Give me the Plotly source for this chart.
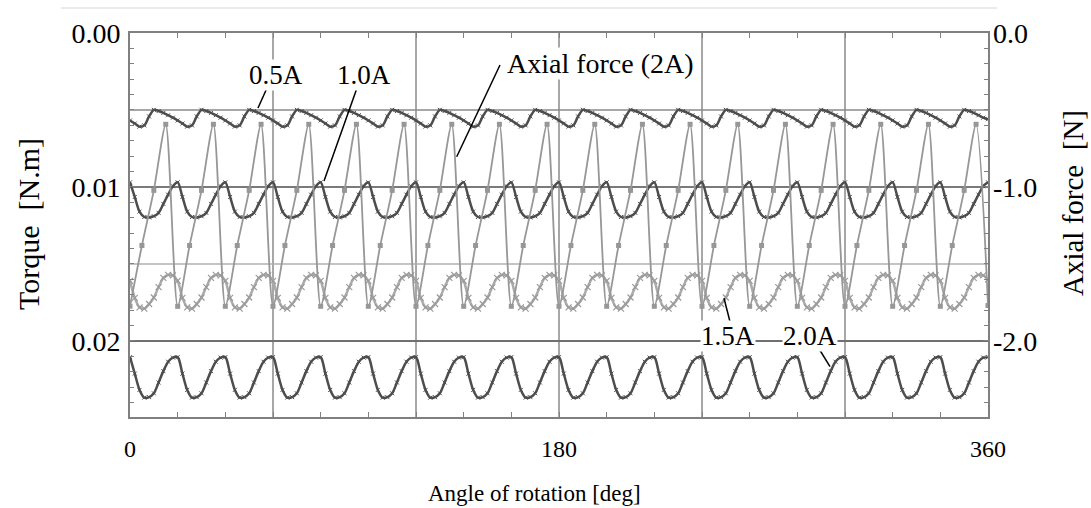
import plotly.graph_objects as go

# ---------------- data ----------------
angle_torque = list(range(0, 361, 2))      # deg, 2-deg sampling
angle_axial = list(range(0, 361, 5))       # deg, 5-deg sampling

torque_05A = [
    0.00568, 0.00588, 0.00608, 0.00600, 0.00542, 0.00499, 0.00507, 0.00519, 0.00534, 0.00550,
    0.00568, 0.00588, 0.00608, 0.00600, 0.00542, 0.00499, 0.00507, 0.00519, 0.00534, 0.00550,
    0.00568, 0.00588, 0.00608, 0.00600, 0.00542, 0.00499, 0.00507, 0.00519, 0.00534, 0.00550,
    0.00568, 0.00588, 0.00608, 0.00600, 0.00542, 0.00499, 0.00507, 0.00519, 0.00534, 0.00550,
    0.00568, 0.00588, 0.00608, 0.00600, 0.00542, 0.00499, 0.00507, 0.00519, 0.00534, 0.00550,
    0.00568, 0.00588, 0.00608, 0.00600, 0.00542, 0.00499, 0.00507, 0.00519, 0.00534, 0.00550,
    0.00568, 0.00588, 0.00608, 0.00600, 0.00542, 0.00499, 0.00507, 0.00519, 0.00534, 0.00550,
    0.00568, 0.00588, 0.00608, 0.00600, 0.00542, 0.00499, 0.00507, 0.00519, 0.00534, 0.00550,
    0.00568, 0.00588, 0.00608, 0.00600, 0.00542, 0.00499, 0.00507, 0.00519, 0.00534, 0.00550,
    0.00568, 0.00588, 0.00608, 0.00600, 0.00542, 0.00499, 0.00507, 0.00519, 0.00534, 0.00550,
    0.00568, 0.00588, 0.00608, 0.00600, 0.00542, 0.00499, 0.00507, 0.00519, 0.00534, 0.00550,
    0.00568, 0.00588, 0.00608, 0.00600, 0.00542, 0.00499, 0.00507, 0.00519, 0.00534, 0.00550,
    0.00568, 0.00588, 0.00608, 0.00600, 0.00542, 0.00499, 0.00507, 0.00519, 0.00534, 0.00550,
    0.00568, 0.00588, 0.00608, 0.00600, 0.00542, 0.00499, 0.00507, 0.00519, 0.00534, 0.00550,
    0.00568, 0.00588, 0.00608, 0.00600, 0.00542, 0.00499, 0.00507, 0.00519, 0.00534, 0.00550,
    0.00568, 0.00588, 0.00608, 0.00600, 0.00542, 0.00499, 0.00507, 0.00519, 0.00534, 0.00550,
    0.00568, 0.00588, 0.00608, 0.00600, 0.00542, 0.00499, 0.00507, 0.00519, 0.00534, 0.00550,
    0.00568, 0.00588, 0.00608, 0.00600, 0.00542, 0.00499, 0.00507, 0.00519, 0.00534, 0.00550,
    0.00560,
]

torque_10A = [
    0.00970, 0.01065, 0.01160, 0.01195, 0.01198, 0.01190, 0.01168, 0.01110, 0.01050, 0.00995,
    0.00970, 0.01065, 0.01160, 0.01195, 0.01198, 0.01190, 0.01168, 0.01110, 0.01050, 0.00995,
    0.00970, 0.01065, 0.01160, 0.01195, 0.01198, 0.01190, 0.01168, 0.01110, 0.01050, 0.00995,
    0.00970, 0.01065, 0.01160, 0.01195, 0.01198, 0.01190, 0.01168, 0.01110, 0.01050, 0.00995,
    0.00970, 0.01065, 0.01160, 0.01195, 0.01198, 0.01190, 0.01168, 0.01110, 0.01050, 0.00995,
    0.00970, 0.01065, 0.01160, 0.01195, 0.01198, 0.01190, 0.01168, 0.01110, 0.01050, 0.00995,
    0.00970, 0.01065, 0.01160, 0.01195, 0.01198, 0.01190, 0.01168, 0.01110, 0.01050, 0.00995,
    0.00970, 0.01065, 0.01160, 0.01195, 0.01198, 0.01190, 0.01168, 0.01110, 0.01050, 0.00995,
    0.00970, 0.01065, 0.01160, 0.01195, 0.01198, 0.01190, 0.01168, 0.01110, 0.01050, 0.00995,
    0.00970, 0.01065, 0.01160, 0.01195, 0.01198, 0.01190, 0.01168, 0.01110, 0.01050, 0.00995,
    0.00970, 0.01065, 0.01160, 0.01195, 0.01198, 0.01190, 0.01168, 0.01110, 0.01050, 0.00995,
    0.00970, 0.01065, 0.01160, 0.01195, 0.01198, 0.01190, 0.01168, 0.01110, 0.01050, 0.00995,
    0.00970, 0.01065, 0.01160, 0.01195, 0.01198, 0.01190, 0.01168, 0.01110, 0.01050, 0.00995,
    0.00970, 0.01065, 0.01160, 0.01195, 0.01198, 0.01190, 0.01168, 0.01110, 0.01050, 0.00995,
    0.00970, 0.01065, 0.01160, 0.01195, 0.01198, 0.01190, 0.01168, 0.01110, 0.01050, 0.00995,
    0.00970, 0.01065, 0.01160, 0.01195, 0.01198, 0.01190, 0.01168, 0.01110, 0.01050, 0.00995,
    0.00970, 0.01065, 0.01160, 0.01195, 0.01198, 0.01190, 0.01168, 0.01110, 0.01050, 0.00995,
    0.00970, 0.01065, 0.01160, 0.01195, 0.01198, 0.01190, 0.01168, 0.01110, 0.01050, 0.00995,
    0.00970,
]

torque_15A = [
    0.01610, 0.01720, 0.01782, 0.01790, 0.01760, 0.01718, 0.01650, 0.01590, 0.01571, 0.01574,
    0.01610, 0.01720, 0.01782, 0.01790, 0.01760, 0.01718, 0.01650, 0.01590, 0.01571, 0.01574,
    0.01610, 0.01720, 0.01782, 0.01790, 0.01760, 0.01718, 0.01650, 0.01590, 0.01571, 0.01574,
    0.01610, 0.01720, 0.01782, 0.01790, 0.01760, 0.01718, 0.01650, 0.01590, 0.01571, 0.01574,
    0.01610, 0.01720, 0.01782, 0.01790, 0.01760, 0.01718, 0.01650, 0.01590, 0.01571, 0.01574,
    0.01610, 0.01720, 0.01782, 0.01790, 0.01760, 0.01718, 0.01650, 0.01590, 0.01571, 0.01574,
    0.01610, 0.01720, 0.01782, 0.01790, 0.01760, 0.01718, 0.01650, 0.01590, 0.01571, 0.01574,
    0.01610, 0.01720, 0.01782, 0.01790, 0.01760, 0.01718, 0.01650, 0.01590, 0.01571, 0.01574,
    0.01610, 0.01720, 0.01782, 0.01790, 0.01760, 0.01718, 0.01650, 0.01590, 0.01571, 0.01574,
    0.01610, 0.01720, 0.01782, 0.01790, 0.01760, 0.01718, 0.01650, 0.01590, 0.01571, 0.01574,
    0.01610, 0.01720, 0.01782, 0.01790, 0.01760, 0.01718, 0.01650, 0.01590, 0.01571, 0.01574,
    0.01610, 0.01720, 0.01782, 0.01790, 0.01760, 0.01718, 0.01650, 0.01590, 0.01571, 0.01574,
    0.01610, 0.01720, 0.01782, 0.01790, 0.01760, 0.01718, 0.01650, 0.01590, 0.01571, 0.01574,
    0.01610, 0.01720, 0.01782, 0.01790, 0.01760, 0.01718, 0.01650, 0.01590, 0.01571, 0.01574,
    0.01610, 0.01720, 0.01782, 0.01790, 0.01760, 0.01718, 0.01650, 0.01590, 0.01571, 0.01574,
    0.01610, 0.01720, 0.01782, 0.01790, 0.01760, 0.01718, 0.01650, 0.01590, 0.01571, 0.01574,
    0.01610, 0.01720, 0.01782, 0.01790, 0.01760, 0.01718, 0.01650, 0.01590, 0.01571, 0.01574,
    0.01610, 0.01720, 0.01782, 0.01790, 0.01760, 0.01718, 0.01650, 0.01590, 0.01571, 0.01574,
    0.01600,
]

torque_20A = [
    0.02105, 0.02212, 0.02318, 0.02368, 0.02365, 0.02340, 0.02270, 0.02196, 0.02135, 0.02108,
    0.02105, 0.02212, 0.02318, 0.02368, 0.02365, 0.02340, 0.02270, 0.02196, 0.02135, 0.02108,
    0.02105, 0.02212, 0.02318, 0.02368, 0.02365, 0.02340, 0.02270, 0.02196, 0.02135, 0.02108,
    0.02105, 0.02212, 0.02318, 0.02368, 0.02365, 0.02340, 0.02270, 0.02196, 0.02135, 0.02108,
    0.02105, 0.02212, 0.02318, 0.02368, 0.02365, 0.02340, 0.02270, 0.02196, 0.02135, 0.02108,
    0.02105, 0.02212, 0.02318, 0.02368, 0.02365, 0.02340, 0.02270, 0.02196, 0.02135, 0.02108,
    0.02105, 0.02212, 0.02318, 0.02368, 0.02365, 0.02340, 0.02270, 0.02196, 0.02135, 0.02108,
    0.02105, 0.02212, 0.02318, 0.02368, 0.02365, 0.02340, 0.02270, 0.02196, 0.02135, 0.02108,
    0.02105, 0.02212, 0.02318, 0.02368, 0.02365, 0.02340, 0.02270, 0.02196, 0.02135, 0.02108,
    0.02105, 0.02212, 0.02318, 0.02368, 0.02365, 0.02340, 0.02270, 0.02196, 0.02135, 0.02108,
    0.02105, 0.02212, 0.02318, 0.02368, 0.02365, 0.02340, 0.02270, 0.02196, 0.02135, 0.02108,
    0.02105, 0.02212, 0.02318, 0.02368, 0.02365, 0.02340, 0.02270, 0.02196, 0.02135, 0.02108,
    0.02105, 0.02212, 0.02318, 0.02368, 0.02365, 0.02340, 0.02270, 0.02196, 0.02135, 0.02108,
    0.02105, 0.02212, 0.02318, 0.02368, 0.02365, 0.02340, 0.02270, 0.02196, 0.02135, 0.02108,
    0.02105, 0.02212, 0.02318, 0.02368, 0.02365, 0.02340, 0.02270, 0.02196, 0.02135, 0.02108,
    0.02105, 0.02212, 0.02318, 0.02368, 0.02365, 0.02340, 0.02270, 0.02196, 0.02135, 0.02108,
    0.02105, 0.02212, 0.02318, 0.02368, 0.02365, 0.02340, 0.02270, 0.02196, 0.02135, 0.02108,
    0.02105, 0.02212, 0.02318, 0.02368, 0.02365, 0.02340, 0.02270, 0.02196, 0.02135, 0.02108,
    0.02105,
]

axial_force_2A = [
    -1.775, -1.380, -1.022, -0.593,
    -1.775, -1.380, -1.022, -0.593,
    -1.775, -1.380, -1.022, -0.593,
    -1.775, -1.380, -1.022, -0.593,
    -1.775, -1.380, -1.022, -0.593,
    -1.775, -1.380, -1.022, -0.593,
    -1.775, -1.380, -1.022, -0.593,
    -1.775, -1.380, -1.022, -0.593,
    -1.775, -1.380, -1.022, -0.593,
    -1.775, -1.380, -1.022, -0.593,
    -1.775, -1.380, -1.022, -0.593,
    -1.775, -1.380, -1.022, -0.593,
    -1.775, -1.380, -1.022, -0.593,
    -1.775, -1.380, -1.022, -0.593,
    -1.775, -1.380, -1.022, -0.593,
    -1.775, -1.380, -1.022, -0.593,
    -1.775, -1.380, -1.022, -0.593,
    -1.775, -1.380, -1.022, -0.593,
    -1.770,
]

x_tick_vals = [0, 180, 360]
x_tick_text = ["0", "180", "360"]
y_tick_vals = [0.0, 0.01, 0.02]
y_tick_text = ["0.00", "0.01", "0.02"]
y2_tick_vals = [0.0, -1.0, -2.0]
y2_tick_text = ["0.0", "-1.0", "-2.0"]
x_grid = [60, 120, 180, 240, 300]
y_grid = [0.005, 0.01, 0.015, 0.02]

# ---------------- layout geometry ----------------
W, H = 1091, 508
L, R, T, B = 130, 988, 33, 417
FONT = "Liberation Serif, Times New Roman, serif"
FRAME = "#808080"
DARK = "#4d4d4d"


def pp(x, y):
    """pixel -> paper coordinates"""
    return (x - L) / (R - L), (B - y) / (B - T)


fig = go.Figure()

# 1.5A (light, x markers)
fig.add_trace(go.Scatter(
    x=angle_torque, y=torque_15A, yaxis="y", mode="lines+markers",
    line=dict(color="#ababab", width=2.5, shape="spline", smoothing=0.8),
    marker=dict(symbol="x-thin", size=6, line=dict(color="#9a9a9a", width=1.2)),
    showlegend=False, name="1.5A"))

# axial force (2A) on right axis
fig.add_trace(go.Scatter(
    x=angle_axial, y=axial_force_2A, yaxis="y2", mode="lines+markers",
    line=dict(color="#979797", width=1.8, shape="spline", smoothing=0.7),
    marker=dict(symbol="square", size=5, color="#979797"),
    showlegend=False, name="Axial force (2A)"))

for vals, nm in [(torque_05A, "0.5A"), (torque_10A, "1.0A"), (torque_20A, "2.0A")]:
    fig.add_trace(go.Scatter(
        x=angle_torque, y=vals, yaxis="y", mode="lines+markers",
        line=dict(color=DARK, width=2.5, shape="spline", smoothing=0.8),
        marker=dict(symbol="x-thin", size=4, line=dict(color=DARK, width=1)),
        showlegend=False, name=nm))

shapes = []
for gx in x_grid:
    shapes.append(dict(type="line", xref="x", yref="paper", x0=gx, x1=gx, y0=0, y1=1,
                       line=dict(color="#8a8a8a", width=1.5), layer="below"))
grid_style = {0.005: ("#8a8a8a", 1.5), 0.01: ("#7a7a7a", 2), 0.015: ("#b0b0b0", 1.5), 0.02: ("#707070", 2)}
for gy in y_grid:
    c, w = grid_style[gy]
    shapes.append(dict(type="line", xref="paper", yref="y", x0=0, x1=1, y0=gy, y1=gy,
                       line=dict(color=c, width=w), layer="below"))

# faint top border line
x0, y0 = pp(61, 8)
x1, _ = pp(997, 8)
shapes.append(dict(type="line", xref="paper", yref="paper", x0=x0, x1=x1, y0=y0, y1=y0,
                   line=dict(color="#d6d6d6", width=1)))

# leader lines
leaders = [((267, 88), (258, 108)),
           ((357, 88), (324, 181)),
           ((500, 65), (456.7, 156.7)),
           ((730, 321.7), (724, 298.3)),
           ((816.7, 345), (830, 366.7))]
for (ax, ay), (bx, by) in leaders:
    a = pp(ax, ay)
    b = pp(bx, by)
    shapes.append(dict(type="line", xref="paper", yref="paper", x0=a[0], y0=a[1], x1=b[0], y1=b[1],
                       line=dict(color="black", width=1.5)))

annotations = []
labels = [("0.5A", 276, 75, 27), ("1.0A", 364, 75, 27), ("Axial force (2A)", 600, 64, 28),
          ("1.5A", 728, 336, 27), ("2.0A", 810, 336, 27)]
for txt, cx, cy, fs in labels:
    px_, py_ = pp(cx, cy)
    annotations.append(dict(text=txt, xref="paper", yref="paper", x=px_, y=py_,
                            xanchor="center", yanchor="middle", showarrow=False,
                            font=dict(family=FONT, size=fs, color="black"),
                            bgcolor="white", borderpad=0))

# axis titles
tx, ty = pp(28, 224)
annotations.append(dict(text="Torque  [N.m]", xref="paper", yref="paper", x=tx, y=ty,
                        textangle=-90, showarrow=False, xanchor="center", yanchor="middle",
                        font=dict(family=FONT, size=30, color="black")))
tx, ty = pp(1073, 203)
annotations.append(dict(text="Axial force  [N]", xref="paper", yref="paper", x=tx, y=ty,
                        textangle=-90, showarrow=False, xanchor="center", yanchor="middle",
                        font=dict(family=FONT, size=29, color="black")))
tx, ty = pp(534, 493)
annotations.append(dict(text="Angle of rotation [deg]", xref="paper", yref="paper", x=tx, y=ty,
                        showarrow=False, xanchor="center", yanchor="middle",
                        font=dict(family=FONT, size=23, color="black")))

fig.update_layout(
    width=W, height=H,
    margin=dict(l=L, r=W - R, t=T, b=H - B, pad=0),
    paper_bgcolor="white", plot_bgcolor="white",
    showlegend=False,
    shapes=shapes, annotations=annotations,
    xaxis=dict(range=[0, 360], tickvals=x_tick_vals, ticktext=x_tick_text,
               showgrid=False, zeroline=False, showline=True, linecolor=FRAME, linewidth=2,
               mirror="allticks", ticks="inside", ticklen=5, tickcolor=FRAME, tickwidth=1,
               minor=dict(dtick=20, tick0=0, ticks="inside", ticklen=5, tickcolor=FRAME, tickwidth=1,
                          showgrid=False),
               tickfont=dict(family=FONT, size=24, color="black"), ticklabelstandoff=9),
    yaxis=dict(range=[0.02494, 0], tickvals=y_tick_vals, ticktext=y_tick_text,
               showgrid=False, zeroline=False, showline=True, linecolor=FRAME, linewidth=2,
               mirror=True, ticks="inside", ticklen=5, tickcolor=FRAME, tickwidth=1,
               minor=dict(dtick=0.001, tick0=0, ticks="inside", ticklen=4, tickcolor=FRAME, tickwidth=1,
                          showgrid=False),
               tickfont=dict(family=FONT, size=28, color="black"), ticklabelstandoff=2),
    yaxis2=dict(range=[-2.494, 0], tickvals=y2_tick_vals, ticktext=y2_tick_text,
                overlaying="y", side="right", anchor="x",
                showgrid=False, zeroline=False, showline=False,
                ticks="inside", ticklen=5, tickcolor=FRAME, tickwidth=1,
                minor=dict(dtick=0.1, tick0=0, ticks="inside", ticklen=4, tickcolor=FRAME, tickwidth=1,
                           showgrid=False),
                tickfont=dict(family=FONT, size=28, color="black"), ticklabelstandoff=4),
)

fig.write_html("out.html")
